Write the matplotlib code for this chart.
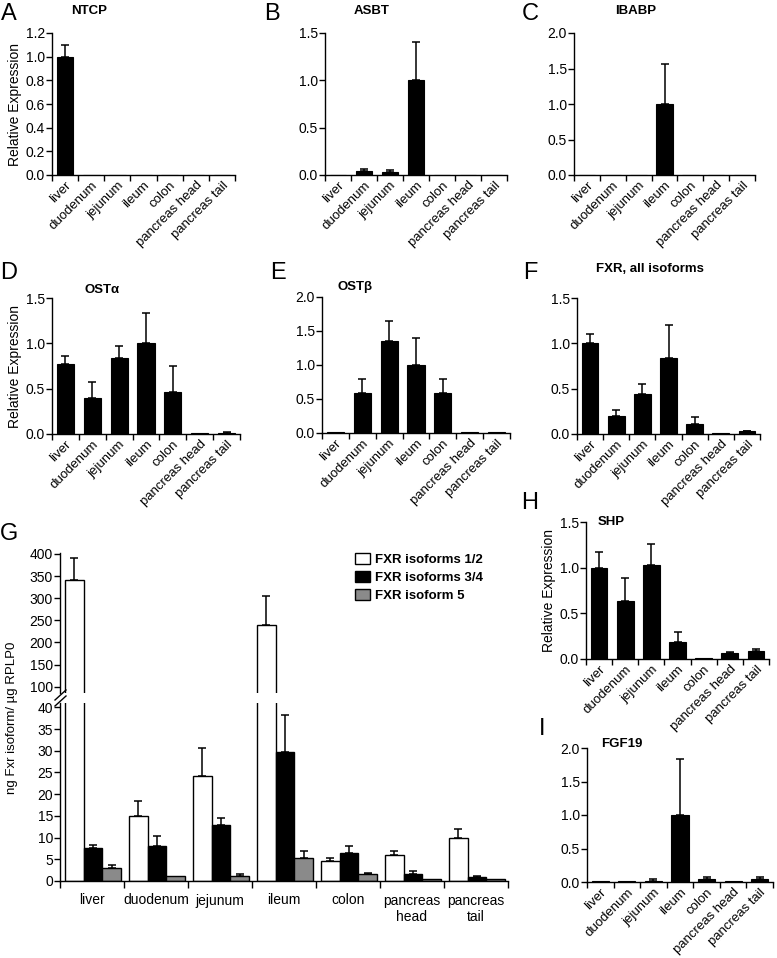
import matplotlib
matplotlib.use('Agg')
import matplotlib.pyplot as plt
import numpy as np

plt.rcParams['font.family'] = ['Liberation Sans', 'DejaVu Sans']
plt.rcParams['axes.linewidth'] = 1.0

W, H = 777, 958

tissues = ['liver', 'duodenum', 'jejunum', 'ileum', 'colon', 'pancreas head', 'pancreas tail']
tissues_g = ['liver', 'duodenum', 'jejunum', 'ileum', 'colon', 'pancreas\nhead', 'pancreas\ntail']

ntcp = [1.0, 0, 0, 0, 0, 0, 0]
ntcp_err = [0.10, 0, 0, 0, 0, 0, 0]
asbt = [0.003, 0.04, 0.03, 1.0, 0.005, 0.0, 0.003]
asbt_err = [0, 0.025, 0.02, 0.41, 0, 0, 0]
ibabp = [0, 0, 0, 1.0, 0, 0, 0]
ibabp_err = [0, 0, 0, 0.57, 0, 0, 0]
osta = [0.77, 0.40, 0.84, 1.0, 0.46, 0.01, 0.015]
osta_err = [0.09, 0.17, 0.13, 0.34, 0.29, 0, 0.005]
ostb = [0.01, 0.59, 1.35, 1.0, 0.59, 0.01, 0.01]
ostb_err = [0, 0.20, 0.30, 0.40, 0.20, 0, 0]
fxr = [1.0, 0.20, 0.44, 0.84, 0.107, 0.01, 0.03]
fxr_err = [0.10, 0.06, 0.11, 0.36, 0.08, 0, 0.005]
shp = [1.0, 0.63, 1.03, 0.185, 0.01, 0.07, 0.09]
shp_err = [0.17, 0.26, 0.23, 0.115, 0, 0.005, 0.02]
fgf19 = [0.01, 0.01, 0.02, 1.0, 0.04, 0.01, 0.04]
fgf19_err = [0, 0, 0.025, 0.83, 0.03, 0, 0.03]

iso12 = [340, 15, 24.3, 240, 4.5, 6.1, 10.0]
iso12_err = [50, 3.4, 6.3, 65, 0.9, 0.8, 2.0]
iso34 = [7.7, 8.0, 13.0, 29.8, 6.5, 1.5, 0.9]
iso34_err = [0.7, 2.3, 1.5, 8.4, 1.5, 0.8, 0.3]
iso5 = [3.1, 1.2, 1.2, 5.3, 1.5, 0.4, 0.4]
iso5_err = [0.7, 0, 0.5, 1.6, 0.4, 0, 0]

fig = plt.figure(figsize=(W / 100, H / 100), dpi=100)


def px_axes(x0, y0, x1, y1):
    return fig.add_axes([x0 / W, 1 - y1 / H, (x1 - x0) / W, (y1 - y0) / H])


def style(ax):
    for s in ['top', 'right']:
        ax.spines[s].set_visible(False)
    ax.tick_params(direction='out', length=4, width=1, labelsize=10, pad=1)


def bar_panel(box, vals, errs, ymax, step, title, title_xy, ylabel=False, title_inside=False):
    ax = px_axes(*box)
    style(ax)
    x = np.arange(len(vals)) + 0.5
    ax.bar(x, vals, width=0.64, color='black', edgecolor='black', linewidth=0.8)
    e = np.array(errs)
    m = e > 0
    ax.errorbar(x[m], np.array(vals)[m], yerr=[np.zeros(m.sum()), e[m]], fmt='none',
                ecolor='black', elinewidth=1.1, capsize=3, capthick=1.1)
    ax.set_xlim(0, len(vals))
    ax.set_ylim(0, ymax)
    ticks = np.arange(0, ymax + 1e-9, step)
    ax.set_yticks(ticks)
    ax.set_yticklabels([f'{t:.1f}' for t in ticks])
    ax.set_xticks(np.arange(len(vals) + 1))
    ax.set_xticklabels([])
    ax.set_xticks(x, minor=True)
    ax.set_xticklabels(tissues, minor=True, rotation=45, ha='right', rotation_mode='anchor', fontsize=9.5)
    ax.tick_params(axis='x', which='minor', length=0, pad=3)
    if ylabel:
        ax.set_ylabel('Relative Expression', fontsize=10, labelpad=3)
    fig.text(title_xy[0] / W, 1 - title_xy[1] / H, title, fontsize=9.5, fontweight='bold',
             ha='left' if title_inside else 'center', va='center')
    return ax


bar_panel((52, 33, 235, 175), ntcp, ntcp_err, 1.2, 0.2, 'NTCP', (89, 11), ylabel=True)
bar_panel((325, 33, 507, 175), asbt, asbt_err, 1.5, 0.5, 'ASBT', (372, 11))
bar_panel((574, 33, 755, 175), ibabp, ibabp_err, 2.0, 0.5, 'IBABP', (636, 11))
bar_panel((52, 298, 240, 434), osta, osta_err, 1.5, 0.5, 'OSTα', (102, 290), ylabel=True)
bar_panel((322, 297, 510, 433), ostb, ostb_err, 2.0, 0.5, 'OSTβ', (355, 287))
bar_panel((577, 298, 760, 434), fxr, fxr_err, 1.5, 0.5, 'FXR, all isoforms', (650, 269))
bar_panel((586, 522, 769, 659), shp, shp_err, 1.5, 0.5, 'SHP', (598, 522), ylabel=True, title_inside=True)
bar_panel((587, 748, 773, 882), fgf19, fgf19_err, 2.0, 0.5, 'FGF19', (601, 744), title_inside=True)

# panel letters
for letter, (lx, ly) in {'A': (9, 14), 'B': (272, 14), 'C': (530, 14), 'D': (9, 273),
                         'E': (278, 273), 'F': (530, 273), 'G': (9, 534), 'H': (530, 503),
                         'I': (542, 729)}.items():
    fig.text(lx / W, 1 - ly / H, letter, fontsize=17, ha='center', va='center')

# panel G: broken axis
axl = px_axes(60, 703, 508, 881)
axu = px_axes(60, 553, 508, 693)
for ax in (axl, axu):
    style(ax)
axu.spines['bottom'].set_visible(False)

n = len(iso12)
grp = np.arange(n)
bw = 0.29
offs = [0.08 + bw / 2, 0.08 + 1.5 * bw, 0.08 + 2.5 * bw]
series = [(iso12, iso12_err, 'white'), (iso34, iso34_err, 'black'), (iso5, iso5_err, '#8a8a8a')]
labels = ['FXR isoforms 1/2', 'FXR isoforms 3/4', 'FXR isoform 5']
for ax in (axl, axu):
    for (v, e, c), off, lab in zip(series, offs, labels):
        xs = grp + off
        ax.bar(xs, v, width=bw, color=c, edgecolor='black', linewidth=1.0, label=lab)
        e = np.array(e)
        m = e > 0
        ax.errorbar(xs[m], np.array(v)[m], yerr=[np.zeros(m.sum()), e[m]], fmt='none',
                    ecolor='black', elinewidth=1.1, capsize=3, capthick=1.1)
    ax.set_xlim(0, n)

axl.set_ylim(0, 41)
axl.set_yticks(np.arange(0, 41, 5))
axu.set_ylim(86, 402)
axu.set_yticks(np.arange(100, 401, 50))
axu.set_xticks([])
axl.set_xticks(np.arange(n + 1))
axl.set_xticklabels([])
axl.set_xticks(grp + 0.5, minor=True)
axl.set_xticklabels(tissues_g, minor=True, fontsize=10)
axl.tick_params(axis='x', which='minor', length=0, pad=9)
axl.tick_params(axis='x', which='major', length=5)

# break marks
for dy in (-3, 3):
    yb = 1 - (698 + dy) / H
    fig.add_artist(plt.Line2D([55 / W, 66 / W], [yb - 5 / H, yb + 5 / H], color='black', lw=1.0))

fig.text(12 / W, 1 - 718 / H, 'ng Fxr isoform/ µg RPLP0', rotation=90, fontsize=9.5,
         ha='center', va='center')

handles, labs = axu.get_legend_handles_labels()
axu.legend(handles, labs, loc='upper left', bbox_to_anchor=((348 - 60) / 448, 1.05),
           frameon=False, prop={'weight': 'bold', 'size': 9.5}, handlelength=1.2,
           handleheight=1.0, handletextpad=0.35, labelspacing=0.35, borderpad=0)

fig.savefig('out.png', dpi=100)
